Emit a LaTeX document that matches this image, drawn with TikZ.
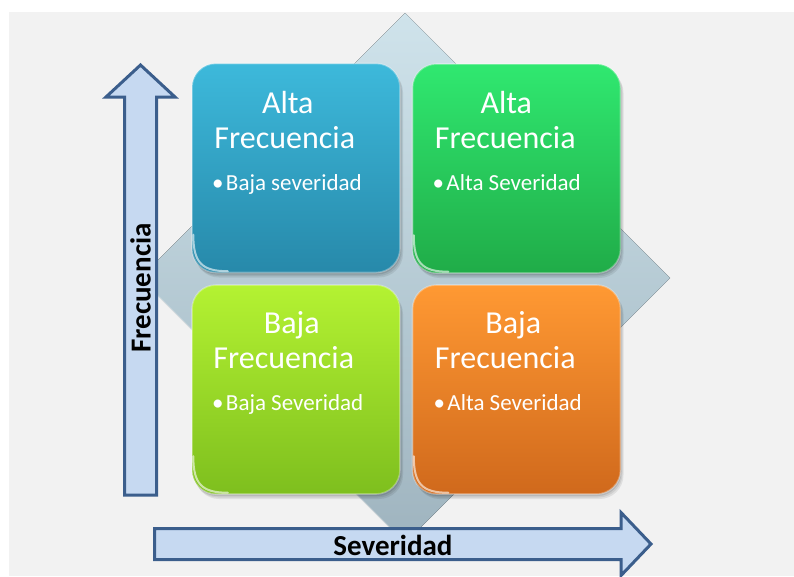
\documentclass[tikz,border=0pt]{standalone}
\usepackage{fontspec}
\setmainfont{Carlito}
\usetikzlibrary{calc}
\definecolor{bggray}{HTML}{F2F2F2}
\definecolor{diaT}{HTML}{CFE3EB}
\definecolor{diaB}{HTML}{9FB4BF}
\definecolor{blueT}{HTML}{3DB9DB}
\definecolor{blueB}{HTML}{2789AA}
\definecolor{greenT}{HTML}{30E870}
\definecolor{greenB}{HTML}{20AC48}
\definecolor{limeT}{HTML}{B4F232}
\definecolor{limeB}{HTML}{7EBF1E}
\definecolor{orangeT}{HTML}{FF9933}
\definecolor{orangeB}{HTML}{D0691C}
\definecolor{arrowfill}{HTML}{C6D9F1}
\definecolor{arrowline}{HTML}{3B5E8C}
\begin{document}
\begin{tikzpicture}[x=1pt,y=-1pt,
  qbox/.style={rounded corners=24pt, minimum width=208pt, minimum height=209pt, inner sep=0pt,
    preaction={fill=black, opacity=0.08, transform canvas={shift={(3pt,-5pt)}}},
    preaction={fill=black, opacity=0.08, transform canvas={shift={(2pt,-3.5pt)}}},
    preaction={fill=black, opacity=0.10, transform canvas={shift={(1pt,-2pt)}}},
    postaction={draw=white, draw opacity=0.30, line width=1.6pt}},
  title/.style={text=white, font=\fontsize{32}{32}\selectfont, anchor=base, inner sep=0pt},
  bul/.style={text=white, font=\fontsize{23}{23}\selectfont, anchor=base west, inner sep=0pt},
  axislabel/.style={text=black, font=\bfseries\fontsize{29}{29}\selectfont, inner sep=0pt},
  bigarrow/.style={fill=arrowfill, draw=arrowline, line width=3pt, line join=miter},
  glare/.style={draw=white, draw opacity=0.6, line width=2pt, line cap=round}
]
\useasboundingbox (0,0) rectangle (794,576);
% background
\fill[bggray] (9,12) rectangle (794,576);
% diamond
\fill[top color=diaT, bottom color=diaB] (405,13) -- (670,278) -- (405,543) -- (140,278) -- cycle;
\draw[white, opacity=0.6, line width=1pt] (140,278) -- (405,543);
% boxes
\node[qbox, top color=blueT, bottom color=blueB] (tl) at (296,168) {};
\node[qbox, top color=greenT, bottom color=greenB] (tr) at (516.5,168.5) {};
\node[qbox, top color=limeT, bottom color=limeB] (bl) at (296,389.5) {};
\node[qbox, top color=orangeT, bottom color=orangeB] (br) at (516.5,389.5) {};
% glare on lower left corners
\foreach \b in {tl,tr,bl,br}{
  \draw[glare] ($(\b.south west)+(1.5,-38)$) .. controls ($(\b.south west)+(1.5,-10)$) and ($(\b.south west)+(10,-1.5)$) .. ($(\b.south west)+(36,-1.5)$);
}
% texts
\node[title] (tl1) at ($(tl.north west)+(96,50)$) {Alta};
\node[title] (tl2) at ($(tl.north west)+(93,85)$) {Frecuencia};
\node[bul] (tl3) at ($(tl.north west)+(20,127)$) {\makebox[14pt][l]{•}Baja severidad};
\node[title] (tr1) at ($(tr.north west)+(94,50)$) {Alta};
\node[title] (tr2) at ($(tr.north west)+(93,85)$) {Frecuencia};
\node[bul] (tr3) at ($(tr.north west)+(20,127)$) {\makebox[14pt][l]{•}Alta Severidad};
\node[title] (bl1) at ($(bl.north west)+(100,49)$) {Baja};
\node[title] (bl2) at ($(bl.north west)+(92,84)$) {Frecuencia};
\node[bul] (bl3) at ($(bl.north west)+(20,126)$) {\makebox[14pt][l]{•}Baja Severidad};
\node[title] (br1) at ($(br.north west)+(101,49)$) {Baja};
\node[title] (br2) at ($(br.north west)+(93,84)$) {Frecuencia};
\node[bul] (br3) at ($(br.north west)+(21,126)$) {\makebox[14pt][l]{•}Alta Severidad};
% axis arrows
\draw[bigarrow] (124.5,495) -- (124.5,97) -- (106,97) -- (140.5,65) -- (175,97) -- (156.5,97) -- (156.5,495) -- cycle;
\draw[bigarrow] (154.5,528.5) -- (621,528.5) -- (621,512.5) -- (651,544) -- (621,575.5) -- (621,559.5) -- (154.5,559.5) -- cycle;
\node[axislabel, rotate=90] (frec) at (140.5,288) {Frecuencia};
\node[axislabel] (sev) at (393,545) {Severidad};
\end{tikzpicture}
\end{document}
